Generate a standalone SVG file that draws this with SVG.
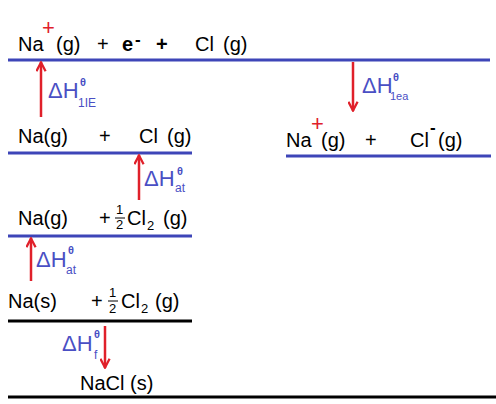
<svg xmlns="http://www.w3.org/2000/svg" width="496" height="404" viewBox="0 0 496 404">
<style>
text{font-family:"Liberation Sans",Arial,sans-serif;fill:#000}
.t{font-size:20px}
.b{font-weight:bold}
.rp{fill:#e0202a;font-size:22px}
.fr{font-size:13px}
.lv{stroke:#3d45b8;stroke-width:3}
.lk{stroke:#000;stroke-width:3}
.arr{stroke:#e0202a;stroke-width:2.5;fill:none}
.lb{fill:#4a4fc4;font-size:22px}
.th{fill:#4a4fc4;font-size:11px;font-weight:bold}
.sb{fill:#4a4fc4;font-size:12px}
</style>
<defs>
<marker id="ah" viewBox="0 0 12 12" refX="11" refY="6" markerWidth="11" markerHeight="11" orient="auto" markerUnits="userSpaceOnUse">
<path d="M1,1 L10.5,6 L1,11" fill="none" stroke="#e0202a" stroke-width="2.5"/>
</marker>
</defs>
<rect width="496" height="404" fill="#fff"/>

<g id="level-top">
<text class="t" x="18" y="51">Na</text>
<text class="rp" x="42" y="35">+</text>
<text class="t" x="56" y="51">(g)</text>
<text class="t" x="97" y="51">+</text>
<text class="t b" x="122" y="51">e</text>
<text class="t b" x="135" y="45" style="font-size:17px">-</text>
<text class="t b" x="156" y="51">+</text>
<text class="t" x="195" y="51">Cl</text>
<text class="t" x="223" y="51">(g)</text>
<line class="lv" x1="8" y1="60" x2="490" y2="60"/>
</g>

<g id="level-ions">
<text class="t" x="286" y="147">Na</text>
<text class="rp" x="311" y="131">+</text>
<text class="t" x="321" y="147">(g)</text>
<text class="t" x="365" y="147">+</text>
<text class="t" x="410" y="147">Cl</text>
<text class="t b" x="430" y="133" style="font-size:17px">-</text>
<text class="t" x="438" y="147">(g)</text>
<line class="lv" x1="286" y1="156" x2="491" y2="156"/>
</g>

<g id="level-atoms">
<text class="t" x="18" y="143">Na(g)</text>
<text class="t" x="99" y="143">+</text>
<text class="t" x="139" y="143">Cl</text>
<text class="t" x="167" y="143">(g)</text>
<line class="lv" x1="8" y1="153" x2="192" y2="153"/>
</g>

<g id="level-nag">
<text class="t" x="18" y="225">Na(g)</text>
<text class="t" x="99" y="225">+</text>
<text class="fr" x="116" y="214">1</text>
<line x1="115" y1="218" x2="125" y2="218" stroke="#000" stroke-width="1"/>
<text class="fr" x="116" y="229">2</text>
<text class="t" x="127" y="225">Cl</text>
<text class="fr" x="147" y="230">2</text>
<text class="t" x="163" y="225">(g)</text>
<line class="lv" x1="8" y1="236" x2="192" y2="236"/>
</g>

<g id="level-elements">
<text class="t" x="8" y="308">Na(s)</text>
<text class="t" x="91" y="308">+</text>
<text class="fr" x="109" y="297">1</text>
<line x1="108" y1="301" x2="118" y2="301" stroke="#000" stroke-width="1"/>
<text class="fr" x="109" y="313">2</text>
<text class="t" x="121" y="308">Cl</text>
<text class="fr" x="141" y="313">2</text>
<text class="t" x="155" y="308">(g)</text>
<line class="lk" x1="8" y1="321" x2="192" y2="321"/>
</g>

<g id="level-nacl">
<text class="t" x="80" y="390">NaCl (s)</text>
<line class="lk" x1="8" y1="397" x2="496" y2="397"/>
</g>

<g id="connectors">
<line class="arr" x1="41" y1="117" x2="41" y2="62" marker-end="url(#ah)"/>
<text class="lb" x="48" y="98">ΔH</text>
<text class="th" x="80" y="86">θ</text>
<text class="sb" x="78" y="107">1IE</text>

<line class="arr" x1="353" y1="62" x2="353" y2="111" marker-end="url(#ah)"/>
<text class="lb" x="362" y="93">ΔH</text>
<text class="th" x="393" y="81">θ</text>
<text class="sb" x="390" y="100" style="font-size:11px">1ea</text>

<line class="arr" x1="139" y1="200" x2="139" y2="155" marker-end="url(#ah)"/>
<text class="lb" x="144" y="186">ΔH</text>
<text class="th" x="177" y="175">θ</text>
<text class="sb" x="175" y="192">at</text>

<line class="arr" x1="31" y1="281" x2="31" y2="238" marker-end="url(#ah)"/>
<text class="lb" x="36" y="267">ΔH</text>
<text class="th" x="68" y="254">θ</text>
<text class="sb" x="66" y="274">at</text>

<line class="arr" x1="105" y1="326" x2="105" y2="368" marker-end="url(#ah)"/>
<text class="lb" x="62" y="351">ΔH</text>
<text class="th" x="94" y="338">θ</text>
<text class="sb" x="94" y="359">f</text>
</g>
</svg>
